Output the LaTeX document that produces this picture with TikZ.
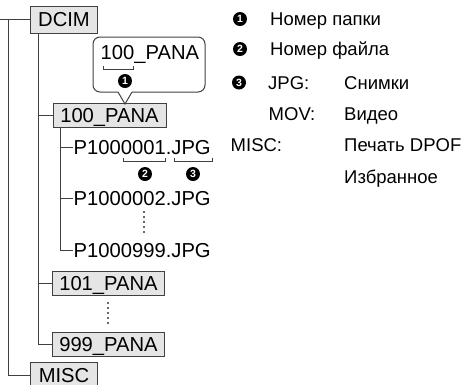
\documentclass[tikz,border=0pt]{standalone}
\usepackage{fontspec}
\setmainfont{Liberation Sans}

\tikzset{
  folder/.style={draw=black!75,fill=black!10,line width=1pt,inner sep=0pt,
    minimum height=24pt,text height=14.4pt,text depth=0pt,font=\fontsize{20.2}{20}\selectfont},
  fname/.style={anchor=west,inner sep=0pt,text height=14.4pt,text depth=0pt,
    font=\fontsize{20.2}{20}\selectfont},
  legend/.style={anchor=west,inner sep=0pt,text height=13.2pt,text depth=0pt,
    font=\fontsize{18.5}{19}\selectfont},
  numdot/.style={circle,fill=black,text=white,inner sep=0pt,minimum size=14pt,
    font=\fontsize{10.5}{10.5}\selectfont\bfseries},
  tree/.style={draw=black!75,line width=1pt},
}

\begin{document}
\begin{tikzpicture}[x=1pt,y=-1pt]
\useasboundingbox (0,0) rectangle (464,384);

% folders
\node[folder,minimum width=67pt,minimum height=27pt] (dcim) at (64,19.5) {DCIM};
\node[folder,minimum width=113pt] (pana100) at (109.5,115.5) {100\_PANA};
\node[folder,minimum width=112pt] (pana101) at (108.5,283) {101\_PANA};
\node[folder,minimum width=112pt] (pana999) at (108.5,344) {999\_PANA};
\node[folder,minimum width=67pt,minimum height=27pt] (misc) at (64,375.5) {MISC};

% files
\node[fname] (f1) at (73.5,147) {P1000001.JPG};
\node[fname] (f2) at (73.5,198) {P1000002.JPG};
\node[fname] (f999) at (73.5,250) {P1000999.JPG};

% tree lines
\coordinate (dtrunk) at ([xshift=8pt]dcim.south west);
\coordinate (ptrunk) at ([xshift=8pt]pana100.south west);
\draw[tree] (0,19.5) -- (dcim.west);
\draw[tree] (8,19.5) |- (misc.west);
\draw[tree] (dtrunk) |- (pana999.west);
\draw[tree] (pana100.west) -- (pana100.west -| dtrunk);
\draw[tree] (pana101.west) -- (pana101.west -| dtrunk);
\draw[tree] (ptrunk) |- ([xshift=-1pt]f999.west);
\draw[tree] ([xshift=-1pt]f1.west) -- (f1.west -| ptrunk);
\draw[tree] ([xshift=-1pt]f2.west) -- (f2.west -| ptrunk);

% vertical dots
\foreach \y in {212,217,...,232} \fill[black!80] (144,\y) circle (1.2pt);
\foreach \y in {303,308,...,323} \fill[black!80] (108,\y) circle (1.2pt);

% callout above 100_PANA
\draw[tree,rounded corners=7pt] (118,92) -- (93,92) -- (93,37) -- (205,37) -- (205,92) -- (132,92);
\draw[tree,line join=miter] (132,92) -- (125,104) -- (118,92);
\node[fname] (call) at (100.5,52.5) {100\_PANA};
\draw[tree] (103,66) -- (103,69) -- (133,69) -- (133,66);
\node[numdot] (n1) at (125,81) {1};

% brackets under P1000001.JPG
\draw[tree] (123,158) -- (123,161) -- (165,161) -- (165,158);
\draw[tree] (174,158) -- (174,161) -- (212,161) -- (212,158);
\node[numdot] (n2) at (145,174) {2};
\node[numdot] (n3) at (193,174) {3};

% legend
\node[numdot] (l1) at (240,19) {1};
\node[numdot] (l2) at (240,49) {2};
\node[numdot] (l3) at (239,82.5) {3};
\node[legend] (t1) at (270,19) {Номер папки};
\node[legend] (t2) at (270,49) {Номер файла};
\node[legend] (jpg) at (268,82.5) {JPG:};
\node[legend] (mov) at (268.5,114) {MOV:};
\node[legend] (misck) at (230.5,145) {MISC:};
\node[legend] (jpgv) at (344,82.5) {Снимки};
\node[legend] (movv) at (344,114) {Видео};
\node[legend] (miscv) at (344,145) {Печать DPOF};
\node[legend] (miscw) at (344,177) {Избранное};
\end{tikzpicture}
\end{document}
